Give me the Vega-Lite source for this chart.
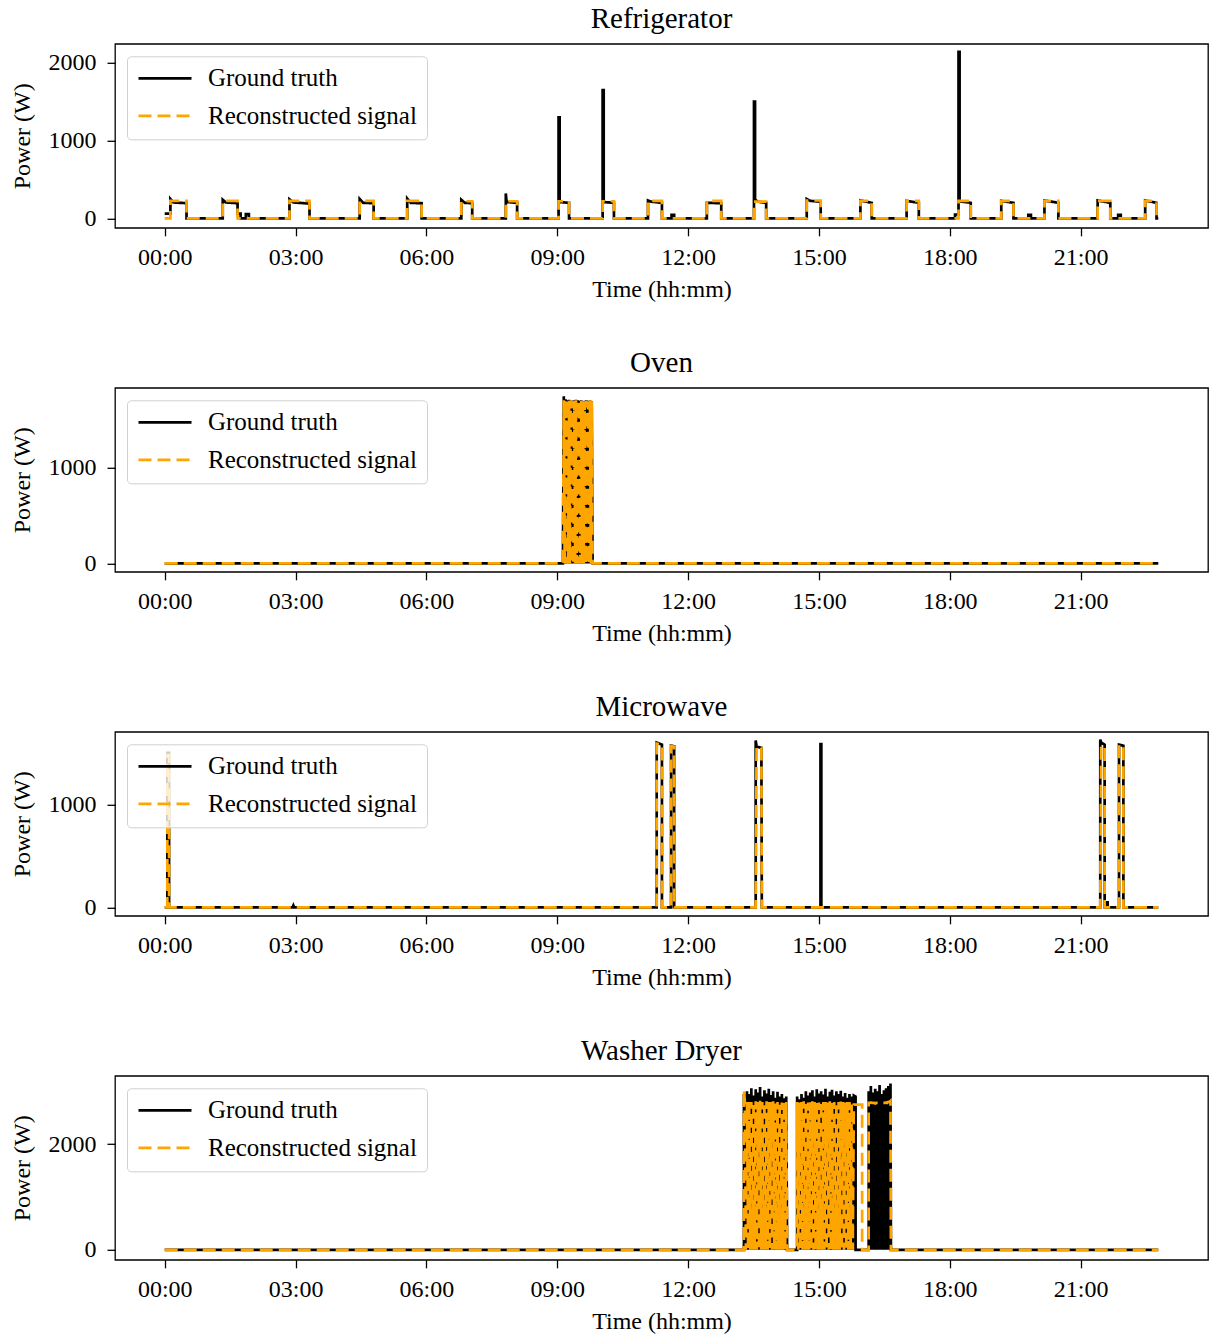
{
  "$schema": "https://vega.github.io/schema/vega-lite/v6.json",
  "padding": {"left": 9, "top": 3.8, "right": 5, "bottom": 5},
  "background": "white",
  "spacing": 45,
  "config": {
    "font": "Liberation Serif",
    "view": {"stroke": "black", "strokeWidth": 1.3},
    "title": {"font": "Liberation Serif", "fontSize": 29, "fontWeight": "normal", "color": "black", "anchor": "middle", "offset": 9.5},
    "axis": {"labelFont": "Liberation Serif", "labelFontSize": 24, "titleFont": "Liberation Serif", "titleFontSize": 24, "titleFontWeight": "normal", "labelColor": "black", "titleColor": "black", "tickColor": "black", "tickSize": 8, "tickWidth": 1.3, "domain": false, "grid": false},
    "axisX": {"labelPadding": 9.5, "titlePadding": 8.5},
    "axisY": {"labelPadding": 11, "titlePadding": 14},
    "concat": {"spacing": 45}
  },
  "resolve": {"legend": {"color": "independent", "strokeDash": "independent"}},
  "datasets": {
    "fridge": [
      {"t":0,"g":60,"r":0},{"t":0.13,"g":60,"r":0},{"t":0.13,"g":250,"r":225},{"t":0.2,"g":205,"r":225},{"t":0.5,"g":195,"r":225},{"t":0.5,"g":0,"r":0},
      {"t":1.33,"g":0,"r":0},{"t":1.33,"g":240,"r":225},{"t":1.4,"g":205,"r":225},{"t":1.67,"g":195,"r":225},{"t":1.67,"g":60,"r":0},{"t":1.74,"g":60,"r":0},{"t":1.74,"g":0,"r":0},{"t":1.86,"g":0,"r":0},{"t":1.86,"g":55,"r":0},{"t":1.93,"g":55,"r":0},{"t":1.93,"g":0,"r":0},
      {"t":2.86,"g":0,"r":0},{"t":2.86,"g":245,"r":225},{"t":2.95,"g":205,"r":225},{"t":3.32,"g":190,"r":225},{"t":3.32,"g":0,"r":0},
      {"t":4.47,"g":0,"r":0},{"t":4.47,"g":250,"r":225},{"t":4.55,"g":200,"r":225},{"t":4.79,"g":195,"r":225},{"t":4.79,"g":0,"r":0},
      {"t":5.56,"g":0,"r":0},{"t":5.56,"g":255,"r":225},{"t":5.64,"g":200,"r":225},{"t":5.89,"g":195,"r":225},{"t":5.89,"g":0,"r":0},
      {"t":6.8,"g":0,"r":0},{"t":6.8,"g":240,"r":220},{"t":6.88,"g":200,"r":220},{"t":7.05,"g":195,"r":220},{"t":7.05,"g":0,"r":0},
      {"t":7.82,"g":0,"r":0},{"t":7.82,"g":320,"r":220},{"t":7.84,"g":210,"r":220},{"t":8.08,"g":200,"r":220},{"t":8.08,"g":0,"r":0},
      {"t":9.03,"g":0,"r":0},{"t":9.03,"g":1300,"r":220},{"t":9.055,"g":1300,"r":220},{"t":9.055,"g":210,"r":220},{"t":9.27,"g":200,"r":220},{"t":9.27,"g":0,"r":0},
      {"t":10.04,"g":0,"r":0},{"t":10.04,"g":1650,"r":220},{"t":10.065,"g":1650,"r":220},{"t":10.065,"g":210,"r":220},{"t":10.3,"g":200,"r":220},{"t":10.3,"g":0,"r":0},
      {"t":11.08,"g":0,"r":0},{"t":11.08,"g":230,"r":225},{"t":11.15,"g":215,"r":225},{"t":11.4,"g":200,"r":225},{"t":11.4,"g":0,"r":0},{"t":11.62,"g":0,"r":0},{"t":11.62,"g":45,"r":0},{"t":11.68,"g":45,"r":0},{"t":11.68,"g":0,"r":0},
      {"t":12.43,"g":0,"r":0},{"t":12.43,"g":200,"r":225},{"t":12.76,"g":195,"r":225},{"t":12.76,"g":0,"r":0},
      {"t":13.51,"g":0,"r":0},{"t":13.51,"g":1500,"r":215},{"t":13.535,"g":1500,"r":215},{"t":13.535,"g":240,"r":215},{"t":13.6,"g":215,"r":215},{"t":13.79,"g":200,"r":215},{"t":13.79,"g":0,"r":0},
      {"t":14.72,"g":0,"r":0},{"t":14.72,"g":250,"r":230},{"t":14.8,"g":225,"r":230},{"t":15.04,"g":215,"r":230},{"t":15.04,"g":0,"r":0},
      {"t":15.95,"g":0,"r":0},{"t":15.95,"g":230,"r":225},{"t":16.21,"g":200,"r":225},{"t":16.21,"g":0,"r":0},
      {"t":17.01,"g":0,"r":0},{"t":17.01,"g":225,"r":225},{"t":17.29,"g":200,"r":225},{"t":17.29,"g":0,"r":0},
      {"t":18.12,"g":0,"r":0},{"t":18.12,"g":50,"r":0},{"t":18.2,"g":50,"r":0},{"t":18.2,"g":2140,"r":225},{"t":18.225,"g":2140,"r":225},{"t":18.225,"g":220,"r":225},{"t":18.48,"g":200,"r":225},{"t":18.48,"g":0,"r":0},
      {"t":19.18,"g":0,"r":0},{"t":19.18,"g":225,"r":225},{"t":19.46,"g":200,"r":225},{"t":19.46,"g":0,"r":0},{"t":19.8,"g":0,"r":0},{"t":19.8,"g":45,"r":0},{"t":19.86,"g":45,"r":0},{"t":19.86,"g":0,"r":0},
      {"t":20.17,"g":0,"r":0},{"t":20.17,"g":230,"r":225},{"t":20.49,"g":200,"r":225},{"t":20.49,"g":0,"r":0},
      {"t":21.39,"g":0,"r":0},{"t":21.39,"g":230,"r":225},{"t":21.68,"g":200,"r":225},{"t":21.68,"g":0,"r":0},{"t":21.86,"g":0,"r":0},{"t":21.86,"g":45,"r":0},{"t":21.92,"g":45,"r":0},{"t":21.92,"g":0,"r":0},
      {"t":22.48,"g":0,"r":0},{"t":22.48,"g":230,"r":225},{"t":22.74,"g":200,"r":225},{"t":22.74,"g":0,"r":0},{"t":22.78,"g":0,"r":0}
    ],
    "oven": [
      {"t":0,"g":0,"r":0},{"t":9.13,"g":0,"r":0},
      {"t":9.15,"g":1740,"r":1700},{"t":9.17,"g":0,"r":0},{"t":9.19,"g":1710,"r":1700},{"t":9.21,"g":0,"r":0},{"t":9.23,"g":1700,"r":1700},{"t":9.25,"g":0,"r":0},{"t":9.27,"g":1705,"r":1695},{"t":9.29,"g":0,"r":0},
      {"t":9.31,"g":1700,"r":1700},{"t":9.33,"g":0,"r":0},{"t":9.35,"g":1695,"r":1690},{"t":9.37,"g":0,"r":0},{"t":9.39,"g":1700,"r":1695},{"t":9.41,"g":0,"r":0},{"t":9.43,"g":1705,"r":1700},{"t":9.45,"g":0,"r":0},
      {"t":9.47,"g":1700,"r":1695},{"t":9.49,"g":0,"r":0},{"t":9.51,"g":1695,"r":1690},{"t":9.53,"g":0,"r":0},{"t":9.55,"g":1700,"r":1695},{"t":9.57,"g":0,"r":0},{"t":9.59,"g":1690,"r":1690},{"t":9.61,"g":0,"r":0},
      {"t":9.63,"g":1695,"r":1690},{"t":9.65,"g":0,"r":0},{"t":9.67,"g":1700,"r":1695},{"t":9.69,"g":0,"r":0},{"t":9.71,"g":1690,"r":1685},{"t":9.73,"g":0,"r":0},{"t":9.75,"g":1700,"r":1700},{"t":9.77,"g":0,"r":0},
      {"t":9.79,"g":1690,"r":1690},{"t":9.81,"g":0,"r":0},{"t":22.78,"g":0,"r":0}
    ],
    "micro": [
      {"t":0,"g":0,"r":0},{"t":0.06,"g":0,"r":0},{"t":0.06,"g":1500,"r":1480},{"t":0.1,"g":1500,"r":1480},{"t":0.1,"g":0,"r":0},
      {"t":2.93,"g":0,"r":0},{"t":2.95,"g":20,"r":0},{"t":2.97,"g":0,"r":0},
      {"t":11.28,"g":0,"r":0},{"t":11.28,"g":1600,"r":1590},{"t":11.4,"g":1580,"r":1580},{"t":11.4,"g":0,"r":0},
      {"t":11.61,"g":0,"r":0},{"t":11.61,"g":1570,"r":1565},{"t":11.68,"g":1565,"r":1560},{"t":11.68,"g":0,"r":0},
      {"t":13.55,"g":0,"r":0},{"t":13.55,"g":1620,"r":0},{"t":13.57,"g":1560,"r":1560},{"t":13.68,"g":1550,"r":1550},{"t":13.69,"g":0,"r":0},
      {"t":15.035,"g":0,"r":0},{"t":15.035,"g":1585,"r":0},{"t":15.055,"g":1585,"r":0},{"t":15.055,"g":0,"r":0},
      {"t":21.45,"g":0,"r":0},{"t":21.45,"g":1630,"r":0},{"t":21.47,"g":1600,"r":1570},{"t":21.55,"g":1580,"r":1560},{"t":21.55,"g":0,"r":0},{"t":21.58,"g":0,"r":0},{"t":21.58,"g":50,"r":0},{"t":21.62,"g":50,"r":0},{"t":21.62,"g":0,"r":0},
      {"t":21.88,"g":0,"r":0},{"t":21.88,"g":1580,"r":1575},{"t":21.98,"g":1570,"r":1570},{"t":21.98,"g":0,"r":0},{"t":22.78,"g":0,"r":0}
    ],
    "washer": [
      {"t":0,"g":0,"r":0},{"t":13.28,"g":0,"r":0},{"t":13.28,"g":2950,"r":3030},{"t":13.3,"g":2900,"r":2820},{"t":13.325,"g":0,"r":0},
      {"t":13.35,"g":3000,"r":2800},{"t":13.375,"g":0,"r":0},{"t":13.4,"g":2950,"r":2810},{"t":13.425,"g":0,"r":0},{"t":13.45,"g":3060,"r":2800},{"t":13.475,"g":0,"r":0},
      {"t":13.5,"g":2920,"r":2790},{"t":13.525,"g":0,"r":0},{"t":13.55,"g":3040,"r":2810},{"t":13.575,"g":0,"r":0},{"t":13.6,"g":2980,"r":2800},{"t":13.625,"g":0,"r":0},
      {"t":13.65,"g":3080,"r":2820},{"t":13.675,"g":0,"r":0},{"t":13.7,"g":2900,"r":2800},{"t":13.725,"g":0,"r":0},{"t":13.75,"g":3020,"r":2790},{"t":13.775,"g":0,"r":0},
      {"t":13.8,"g":2960,"r":2810},{"t":13.825,"g":0,"r":0},{"t":13.85,"g":3050,"r":2800},{"t":13.875,"g":0,"r":0},{"t":13.9,"g":2930,"r":2800},{"t":13.925,"g":0,"r":0},
      {"t":13.95,"g":3000,"r":2810},{"t":13.975,"g":0,"r":0},{"t":14.0,"g":2880,"r":2790},{"t":14.025,"g":0,"r":0},{"t":14.05,"g":2990,"r":2800},{"t":14.075,"g":0,"r":0},
      {"t":14.1,"g":2900,"r":2800},{"t":14.125,"g":0,"r":0},{"t":14.15,"g":2950,"r":2790},{"t":14.175,"g":0,"r":0},{"t":14.2,"g":2870,"r":2800},{"t":14.225,"g":0,"r":0},
      {"t":14.25,"g":2900,"r":2800},{"t":14.27,"g":0,"r":0},
      {"t":14.5,"g":0,"r":0},{"t":14.5,"g":2900,"r":2800},{"t":14.525,"g":0,"r":0},{"t":14.55,"g":2850,"r":2790},{"t":14.575,"g":0,"r":0},{"t":14.6,"g":2950,"r":2800},{"t":14.625,"g":0,"r":0},
      {"t":14.65,"g":2880,"r":2810},{"t":14.675,"g":0,"r":0},{"t":14.7,"g":3000,"r":2800},{"t":14.725,"g":0,"r":0},{"t":14.75,"g":2920,"r":2790},{"t":14.775,"g":0,"r":0},
      {"t":14.8,"g":2980,"r":2800},{"t":14.825,"g":0,"r":0},{"t":14.85,"g":3020,"r":2810},{"t":14.875,"g":0,"r":0},{"t":14.9,"g":2900,"r":2800},{"t":14.925,"g":0,"r":0},
      {"t":14.95,"g":3040,"r":2800},{"t":14.975,"g":0,"r":0},{"t":15.0,"g":2960,"r":2790},{"t":15.025,"g":0,"r":0},{"t":15.05,"g":3000,"r":2810},{"t":15.075,"g":0,"r":0},
      {"t":15.1,"g":2940,"r":2800},{"t":15.125,"g":0,"r":0},{"t":15.15,"g":3050,"r":2800},{"t":15.175,"g":0,"r":0},{"t":15.2,"g":2900,"r":2790},{"t":15.225,"g":0,"r":0},
      {"t":15.25,"g":2990,"r":2810},{"t":15.275,"g":0,"r":0},{"t":15.3,"g":3030,"r":2800},{"t":15.325,"g":0,"r":0},{"t":15.35,"g":2920,"r":2800},{"t":15.375,"g":0,"r":0},
      {"t":15.4,"g":3000,"r":2790},{"t":15.425,"g":0,"r":0},{"t":15.45,"g":2950,"r":2800},{"t":15.475,"g":0,"r":0},{"t":15.5,"g":3010,"r":2810},{"t":15.525,"g":0,"r":0},
      {"t":15.55,"g":2900,"r":2800},{"t":15.575,"g":0,"r":0},{"t":15.6,"g":2970,"r":2790},{"t":15.625,"g":0,"r":0},{"t":15.65,"g":2880,"r":2800},{"t":15.675,"g":0,"r":0},
      {"t":15.7,"g":2950,"r":2800},{"t":15.725,"g":0,"r":0},{"t":15.75,"g":2900,"r":2760},{"t":15.775,"g":0,"r":0},{"t":15.8,"g":2920,"r":2750},{"t":15.84,"g":2900,"r":2750},{"t":15.84,"g":0,"r":2750},
      {"t":15.99,"g":0,"r":2750},{"t":15.99,"g":0,"r":0},
      {"t":16.14,"g":0,"r":0},{"t":16.14,"g":3000,"r":2780},{"t":16.165,"g":0,"r":2780},{"t":16.19,"g":3100,"r":2790},{"t":16.215,"g":0,"r":2780},{"t":16.24,"g":2980,"r":2780},
      {"t":16.265,"g":0,"r":2780},{"t":16.29,"g":3050,"r":2770},{"t":16.315,"g":0,"r":2780},{"t":16.34,"g":3000,"r":2780},{"t":16.365,"g":0,"r":2780},{"t":16.39,"g":3120,"r":2790},
      {"t":16.415,"g":0,"r":2780},{"t":16.44,"g":2950,"r":2780},{"t":16.465,"g":0,"r":2780},{"t":16.49,"g":3020,"r":2780},{"t":16.515,"g":0,"r":2780},{"t":16.54,"g":3060,"r":2790},
      {"t":16.565,"g":0,"r":2780},{"t":16.59,"g":3100,"r":2800},{"t":16.615,"g":0,"r":2800},{"t":16.64,"g":3150,"r":2820},{"t":16.65,"g":0,"r":0},{"t":22.78,"g":0,"r":0}
    ]
  },
  "vconcat": [
    {
      "title": "Refrigerator",
      "width": 1093, "height": 184,
      "data": {"name": "fridge"},
      "transform": [{"fold": ["g", "r"], "as": ["s", "p"]}],
      "encoding": {
        "x": {"field": "t", "type": "quantitative", "scale": {"domain": [-1.14, 23.92], "nice": false, "zero": false}, "axis": {"values": [0,3,6,9,12,15,18,21], "labelExpr": "format(datum.value,'02d') + ':00'", "title": "Time (hh:mm)"}},
        "y": {"field": "p", "type": "quantitative", "scale": {"domain": [-121, 2244], "nice": false, "zero": false}, "axis": {"values": [0,1000,2000], "format": "d", "title": "Power (W)"}},
        "color": {"field": "s", "type": "nominal", "scale": {"domain": ["g","r"], "range": ["black", "#FFA500"]}, "legend": {"orient": "none", "legendX": 12, "legendY": 12.5, "title": null, "labelExpr": "datum.label == 'g' ? 'Ground truth' : 'Reconstructed signal'", "labelFont": "Liberation Serif", "labelFontSize": 25, "labelLimit": 400, "labelColor": "black", "symbolType": "stroke", "symbolSize": 2809, "symbolStrokeWidth": 2.7, "clipHeight": 24, "rowPadding": 12.5, "padding": 10, "labelOffset": 15, "fillColor": "rgba(255,255,255,0.8)", "strokeColor": "#d0d0d0", "cornerRadius": 4}},
        "strokeDash": {"field": "s", "type": "nominal", "scale": {"domain": ["g","r"], "range": [[1,0],[13,6]]}, "legend": {"orient": "none", "legendX": 12, "legendY": 12.5, "title": null, "labelExpr": "datum.label == 'g' ? 'Ground truth' : 'Reconstructed signal'", "labelFont": "Liberation Serif", "labelFontSize": 25, "labelLimit": 400, "labelColor": "black", "symbolType": "stroke", "symbolSize": 2809, "symbolStrokeWidth": 2.7, "clipHeight": 24, "rowPadding": 12.5, "padding": 10, "labelOffset": 15, "fillColor": "rgba(255,255,255,0.8)", "strokeColor": "#d0d0d0", "cornerRadius": 4}}
      },
      "layer": [
        {"transform": [{"filter": "datum.s == 'g'"}], "mark": {"type": "line", "strokeWidth": 2.7}},
        {"transform": [{"filter": "datum.s == 'r'"}], "mark": {"type": "line", "strokeWidth": 2.7}}
      ]
    },
    {
      "title": "Oven",
      "width": 1093, "height": 184,
      "data": {"name": "oven"},
      "transform": [{"fold": ["g", "r"], "as": ["s", "p"]}],
      "encoding": {
        "x": {"field": "t", "type": "quantitative", "scale": {"domain": [-1.14, 23.92], "nice": false, "zero": false}, "axis": {"values": [0,3,6,9,12,15,18,21], "labelExpr": "format(datum.value,'02d') + ':00'", "title": "Time (hh:mm)"}},
        "y": {"field": "p", "type": "quantitative", "scale": {"domain": [-87, 1829], "nice": false, "zero": false}, "axis": {"values": [0,1000], "format": "d", "title": "Power (W)"}},
        "color": {"field": "s", "type": "nominal", "scale": {"domain": ["g","r"], "range": ["black", "#FFA500"]}, "legend": {"orient": "none", "legendX": 12, "legendY": 12.5, "title": null, "labelExpr": "datum.label == 'g' ? 'Ground truth' : 'Reconstructed signal'", "labelFont": "Liberation Serif", "labelFontSize": 25, "labelLimit": 400, "labelColor": "black", "symbolType": "stroke", "symbolSize": 2809, "symbolStrokeWidth": 2.7, "clipHeight": 24, "rowPadding": 12.5, "padding": 10, "labelOffset": 15, "fillColor": "rgba(255,255,255,0.8)", "strokeColor": "#d0d0d0", "cornerRadius": 4}},
        "strokeDash": {"field": "s", "type": "nominal", "scale": {"domain": ["g","r"], "range": [[1,0],[13,6]]}, "legend": {"orient": "none", "legendX": 12, "legendY": 12.5, "title": null, "labelExpr": "datum.label == 'g' ? 'Ground truth' : 'Reconstructed signal'", "labelFont": "Liberation Serif", "labelFontSize": 25, "labelLimit": 400, "labelColor": "black", "symbolType": "stroke", "symbolSize": 2809, "symbolStrokeWidth": 2.7, "clipHeight": 24, "rowPadding": 12.5, "padding": 10, "labelOffset": 15, "fillColor": "rgba(255,255,255,0.8)", "strokeColor": "#d0d0d0", "cornerRadius": 4}}
      },
      "layer": [
        {"transform": [{"filter": "datum.s == 'g'"}], "mark": {"type": "line", "strokeWidth": 2.7}},
        {"transform": [{"filter": "datum.s == 'r'"}], "mark": {"type": "line", "strokeWidth": 2.7}}
      ]
    },
    {
      "title": "Microwave",
      "width": 1093, "height": 184,
      "data": {"name": "micro"},
      "transform": [{"fold": ["g", "r"], "as": ["s", "p"]}],
      "encoding": {
        "x": {"field": "t", "type": "quantitative", "scale": {"domain": [-1.14, 23.92], "nice": false, "zero": false}, "axis": {"values": [0,3,6,9,12,15,18,21], "labelExpr": "format(datum.value,'02d') + ':00'", "title": "Time (hh:mm)"}},
        "y": {"field": "p", "type": "quantitative", "scale": {"domain": [-81, 1705], "nice": false, "zero": false}, "axis": {"values": [0,1000], "format": "d", "title": "Power (W)"}},
        "color": {"field": "s", "type": "nominal", "scale": {"domain": ["g","r"], "range": ["black", "#FFA500"]}, "legend": {"orient": "none", "legendX": 12, "legendY": 12.5, "title": null, "labelExpr": "datum.label == 'g' ? 'Ground truth' : 'Reconstructed signal'", "labelFont": "Liberation Serif", "labelFontSize": 25, "labelLimit": 400, "labelColor": "black", "symbolType": "stroke", "symbolSize": 2809, "symbolStrokeWidth": 2.7, "clipHeight": 24, "rowPadding": 12.5, "padding": 10, "labelOffset": 15, "fillColor": "rgba(255,255,255,0.8)", "strokeColor": "#d0d0d0", "cornerRadius": 4}},
        "strokeDash": {"field": "s", "type": "nominal", "scale": {"domain": ["g","r"], "range": [[1,0],[13,6]]}, "legend": {"orient": "none", "legendX": 12, "legendY": 12.5, "title": null, "labelExpr": "datum.label == 'g' ? 'Ground truth' : 'Reconstructed signal'", "labelFont": "Liberation Serif", "labelFontSize": 25, "labelLimit": 400, "labelColor": "black", "symbolType": "stroke", "symbolSize": 2809, "symbolStrokeWidth": 2.7, "clipHeight": 24, "rowPadding": 12.5, "padding": 10, "labelOffset": 15, "fillColor": "rgba(255,255,255,0.8)", "strokeColor": "#d0d0d0", "cornerRadius": 4}}
      },
      "layer": [
        {"transform": [{"filter": "datum.s == 'g'"}], "mark": {"type": "line", "strokeWidth": 2.7}},
        {"transform": [{"filter": "datum.s == 'r'"}], "mark": {"type": "line", "strokeWidth": 2.7}}
      ]
    },
    {
      "title": "Washer Dryer",
      "width": 1093, "height": 184,
      "data": {"name": "washer"},
      "transform": [{"fold": ["g", "r"], "as": ["s", "p"]}],
      "encoding": {
        "x": {"field": "t", "type": "quantitative", "scale": {"domain": [-1.14, 23.92], "nice": false, "zero": false}, "axis": {"values": [0,3,6,9,12,15,18,21], "labelExpr": "format(datum.value,'02d') + ':00'", "title": "Time (hh:mm)"}},
        "y": {"field": "p", "type": "quantitative", "scale": {"domain": [-189, 3294], "nice": false, "zero": false}, "axis": {"values": [0,2000], "format": "d", "title": "Power (W)"}},
        "color": {"field": "s", "type": "nominal", "scale": {"domain": ["g","r"], "range": ["black", "#FFA500"]}, "legend": {"orient": "none", "legendX": 12, "legendY": 12.5, "title": null, "labelExpr": "datum.label == 'g' ? 'Ground truth' : 'Reconstructed signal'", "labelFont": "Liberation Serif", "labelFontSize": 25, "labelLimit": 400, "labelColor": "black", "symbolType": "stroke", "symbolSize": 2809, "symbolStrokeWidth": 2.7, "clipHeight": 24, "rowPadding": 12.5, "padding": 10, "labelOffset": 15, "fillColor": "rgba(255,255,255,0.8)", "strokeColor": "#d0d0d0", "cornerRadius": 4}},
        "strokeDash": {"field": "s", "type": "nominal", "scale": {"domain": ["g","r"], "range": [[1,0],[13,6]]}, "legend": {"orient": "none", "legendX": 12, "legendY": 12.5, "title": null, "labelExpr": "datum.label == 'g' ? 'Ground truth' : 'Reconstructed signal'", "labelFont": "Liberation Serif", "labelFontSize": 25, "labelLimit": 400, "labelColor": "black", "symbolType": "stroke", "symbolSize": 2809, "symbolStrokeWidth": 2.7, "clipHeight": 24, "rowPadding": 12.5, "padding": 10, "labelOffset": 15, "fillColor": "rgba(255,255,255,0.8)", "strokeColor": "#d0d0d0", "cornerRadius": 4}}
      },
      "layer": [
        {"transform": [{"filter": "datum.s == 'g'"}], "mark": {"type": "line", "strokeWidth": 2.7}},
        {"transform": [{"filter": "datum.s == 'r'"}], "mark": {"type": "line", "strokeWidth": 2.7}}
      ]
    }
  ]
}
